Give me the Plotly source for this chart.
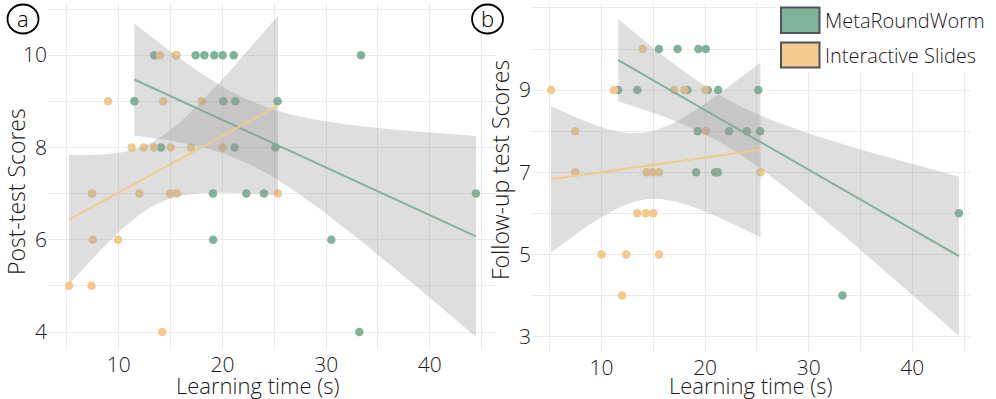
import numpy as np
import plotly.graph_objects as go

# figure size in px
W, H = 996, 399

GREEN = "#80B49A"
ORANGE = "#F3CA8C"
BAND = "rgba(153,153,153,0.32)"
GRID = "#EBEBEB"
TXT = "#1A1A1A"
FONT = "Open Sans"

group_names = ["MetaRoundWorm", "Interactive Slides"]

# panel a: post-test scores
a_green_x = [13.42, 15.55, 17.41, 18.25, 19.21, 20.02, 21.08, 33.36,
             11.5, 20.08, 21.24, 25.32,
             14.07, 21.17, 25.1,
             19.08, 22.3, 24.0, 44.45,
             19.1, 30.5,
             33.2]
a_green_y = [10, 10, 10, 10, 10, 10, 10, 10,
             9, 9, 9, 9,
             8, 8, 8,
             7, 7, 7, 7,
             6, 6,
             4]
a_orange_x = [13.97, 15.51,
              8.97, 14.29, 17.99,
              11.24, 12.40, 13.39, 15.0, 16.96, 20.02,
              7.43, 11.98, 14.94, 15.58, 25.35,
              7.5, 9.93,
              5.2, 7.37,
              14.2]
a_orange_y = [10, 10,
              9, 9, 9,
              8, 8, 8, 8, 8, 8,
              7, 7, 7, 7, 7,
              6, 6,
              5, 5,
              4]

# panel b: follow-up test scores
b_green_x = [15.55, 17.35, 19.35, 20.06,
             11.61, 13.45, 18.29, 20.26, 21.26, 25.13,
             19.29, 22.32, 24.03, 25.32,
             19.13, 20.97, 21.23,
             44.5,
             33.26]
b_green_y = [10, 10, 10, 10,
             9, 9, 9, 9, 9, 9,
             8, 8, 8, 8,
             7, 7, 7,
             6,
             4]
b_orange_x = [13.97,
              5.13, 11.19, 17.0, 18.0, 20.03,
              7.45, 20.1,
              7.45, 14.35, 14.94, 15.55, 25.35,
              13.45, 14.29, 15.0,
              10.0, 12.39, 15.55,
              11.97]
b_orange_y = [10,
              9, 9, 9, 9, 9,
              8, 8,
              7, 7, 7, 7, 7,
              6, 6, 6,
              5, 5, 5,
              4]

x_ticks = [10, 20, 30, 40]
a_y_ticks = [4, 6, 8, 10]
b_y_ticks = [3, 5, 7, 9, 11]


def t975(df):
    try:
        from scipy.stats import t
        return float(t.ppf(0.975, df))
    except Exception:
        table = {16: 2.120, 17: 2.110, 18: 2.101, 19: 2.093, 20: 2.086,
                 21: 2.080, 22: 2.074, 23: 2.069}
        return table.get(df, 2.08)


def lm_band(x, y):
    # same thing geom_smooth(method="lm") does: fit + 95% CI on 80 points
    x = np.asarray(x, float)
    y = np.asarray(y, float)
    n = len(x)
    mx = x.mean()
    sxx = ((x - mx) ** 2).sum()
    slope = ((x - mx) * (y - y.mean())).sum() / sxx
    icpt = y.mean() - slope * mx
    s = np.sqrt(((y - icpt - slope * x) ** 2).sum() / (n - 2))
    xs = np.linspace(x.min(), x.max(), 80)
    fit = icpt + slope * xs
    se = s * np.sqrt(1 / n + (xs - mx) ** 2 / sxx)
    t = t975(n - 2)
    return xs, fit, fit - t * se, fit + t * se


def px(v):
    return v / W


def py(v):
    return 1 - v / H


fig = go.Figure()

panels = [
    ("x", "y", [(a_green_x, a_green_y, GREEN), (a_orange_x, a_orange_y, ORANGE)]),
    ("x2", "y2", [(b_green_x, b_green_y, GREEN), (b_orange_x, b_orange_y, ORANGE)]),
]

for xa, ya, groups in panels:
    # points first, smooths drawn over them
    for gx, gy, col in groups:
        fig.add_trace(go.Scatter(
            x=gx, y=gy, xaxis=xa, yaxis=ya, mode="markers",
            marker=dict(color=col, size=8.5, line=dict(width=0)),
            showlegend=False, hoverinfo="skip",
        ))
    for gx, gy, col in groups:
        xs, fit, lo, hi = lm_band(gx, gy)
        fig.add_trace(go.Scatter(
            x=np.concatenate([xs, xs[::-1]]),
            y=np.concatenate([lo, hi[::-1]]),
            xaxis=xa, yaxis=ya, mode="lines", fill="toself",
            fillcolor=BAND, line=dict(width=0),
            showlegend=False, hoverinfo="skip",
        ))
        fig.add_trace(go.Scatter(
            x=xs, y=fit, xaxis=xa, yaxis=ya, mode="lines",
            line=dict(color=col, width=2),
            showlegend=False, hoverinfo="skip",
        ))

axis_common = dict(
    showgrid=True, gridcolor=GRID, gridwidth=1, zeroline=False,
    showline=False, ticks="", automargin=False,
    tickfont=dict(family=FONT, size=21, color=TXT, weight=300),
)

fig.update_layout(
    width=W, height=H,
    margin=dict(l=0, r=0, t=0, b=0),
    paper_bgcolor="white", plot_bgcolor="white",
    font=dict(family=FONT, color=TXT, weight=300),
    xaxis=dict(domain=[px(48), px(497)], range=[3.17, 46.48], tickvals=x_ticks,
               anchor="y", minor=dict(dtick=5, showgrid=True, gridcolor=GRID),
               **axis_common),
    yaxis=dict(domain=[py(350), py(3)], range=[3.61, 11.13], tickvals=a_y_ticks,
               anchor="x", minor=dict(dtick=1, showgrid=True, gridcolor=GRID),
               **axis_common),
    xaxis2=dict(domain=[px(532), px(970)], range=[3.29, 45.57], tickvals=x_ticks,
                anchor="y2", minor=dict(dtick=5, showgrid=True, gridcolor=GRID),
                **axis_common),
    yaxis2=dict(domain=[py(353), py(3)], range=[2.60, 11.12], tickvals=b_y_ticks,
                anchor="x2", minor=dict(dtick=1, showgrid=True, gridcolor=GRID),
                **axis_common),
)

title_font = dict(family=FONT, size=22, color=TXT, weight=300)
ytitle_font = dict(family=FONT, size=23, color=TXT, weight=300)
annotations = [
    dict(text="Learning time (s)", x=px(257), y=py(384.5), font=title_font),
    dict(text="Learning time (s)", x=px(750), y=py(384.5), font=title_font),
    dict(text="Post-test Scores", x=px(16), y=py(192), textangle=-90, font=ytitle_font),
    dict(text="Follow-up test Scores", x=px(500), y=py(170), textangle=-90, font=ytitle_font),
    dict(text="a", x=px(23), y=py(18), font=dict(family=FONT, size=22, color="black", weight=300)),
    dict(text="b", x=px(487.5), y=py(18), font=dict(family=FONT, size=22, color="black", weight=300)),
    dict(text=group_names[0], x=px(823), y=py(20.5), xanchor="left",
         font=dict(family=FONT, size=20, color=TXT, weight=300)),
    dict(text=group_names[1], x=px(823), y=py(55.5), xanchor="left",
         font=dict(family=FONT, size=20, color=TXT, weight=300)),
]
for a in annotations:
    a.setdefault("xanchor", "center")
    a.update(xref="paper", yref="paper", yanchor="middle", showarrow=False)
fig.update_layout(annotations=annotations)

shapes = [
    # legend background
    dict(type="rect", x0=px(777), x1=1, y0=py(72), y1=1,
         fillcolor="white", line=dict(width=0), layer="above"),
    dict(type="rect", x0=px(781), x1=px(819.5), y0=py(33), y1=py(7.5),
         fillcolor=GREEN, line=dict(color="#4E535F", width=2), layer="above"),
    dict(type="rect", x0=px(781), x1=px(819.5), y0=py(67.5), y1=py(42.5),
         fillcolor=ORANGE, line=dict(color="#4E535F", width=2), layer="above"),
    # panel label circles
    dict(type="circle", x0=px(7.5), x1=px(38.5), y0=py(33.5), y1=py(4.5),
         fillcolor="white", line=dict(color="black", width=1.8), layer="above"),
    dict(type="circle", x0=px(472), x1=px(503), y0=py(33.5), y1=py(4.5),
         fillcolor="white", line=dict(color="black", width=1.8), layer="above"),
]
for s in shapes:
    s.update(xref="paper", yref="paper")
fig.update_layout(shapes=shapes)

# page body has a default 8px margin; drop it so the figure sits at 0,0
fig.write_html("out.html", config={"displayModeBar": False},
               post_script="document.body.style.margin='0';")
